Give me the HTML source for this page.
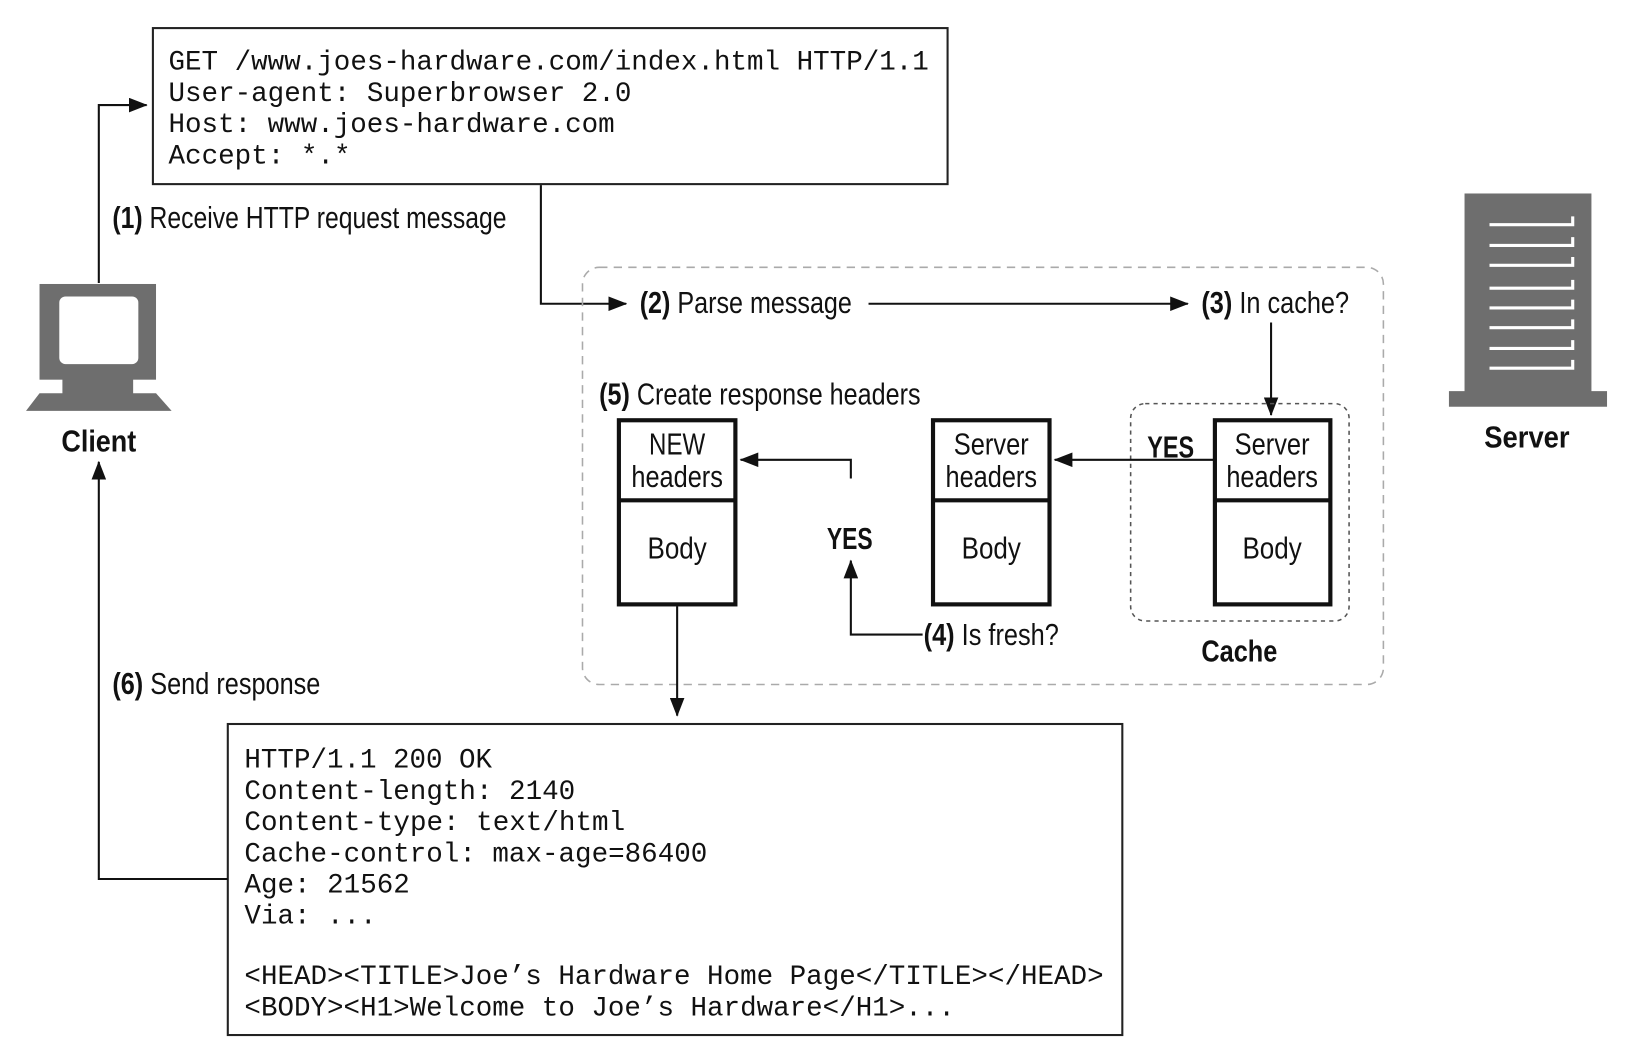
<!DOCTYPE html>
<html><head><meta charset="utf-8"><style>
html,body{margin:0;padding:0;background:#fff;}
svg{display:block}
.m{font-family:"Liberation Mono",monospace;font-size:27px;fill:#111}
.l{font-family:"Liberation Sans",sans-serif;font-size:29px;fill:#111}
.b{font-weight:bold}
</style></head><body>
<svg width="1632" height="1060" viewBox="0 0 1569 1019" preserveAspectRatio="none" xmlns="http://www.w3.org/2000/svg">
<defs>
<marker id="a2" markerWidth="18" markerHeight="14" refX="17" refY="7" orient="auto" markerUnits="userSpaceOnUse"><path d="M0,0 L18,7 L0,14 Z" fill="#111"/></marker>
</defs>
<rect x="147" y="27" width="764" height="150" fill="none" stroke="#222" stroke-width="2"/>
<text class="m" x="162" y="67" textLength="731" lengthAdjust="spacingAndGlyphs">GET /www.joes-hardware.com/index.html HTTP/1.1</text>
<text class="m" x="162" y="97" textLength="445" lengthAdjust="spacingAndGlyphs">User-agent: Superbrowser 2.0</text>
<text class="m" x="162" y="127" textLength="429" lengthAdjust="spacingAndGlyphs">Host: www.joes-hardware.com</text>
<text class="m" x="162" y="157" textLength="175" lengthAdjust="spacingAndGlyphs">Accept: *.*</text>
<polyline points="95,272 95,101 141,101" fill="none" stroke="#111" stroke-width="2" marker-end="url(#a2)"/>
<text class="l" x="108" y="219" textLength="379" lengthAdjust="spacingAndGlyphs"><tspan class="b">(1)</tspan> Receive HTTP request message</text>
<polyline points="520,178 520,292 602,292" fill="none" stroke="#111" stroke-width="2" marker-end="url(#a2)"/>
<rect x="560" y="257" width="770" height="401" rx="16" fill="none" stroke="#aaa" stroke-width="1.5" stroke-dasharray="8,6"/>
<text class="l" x="615" y="301" textLength="204" lengthAdjust="spacingAndGlyphs"><tspan class="b">(2)</tspan> Parse message</text>
<line x1="835" y1="292" x2="1142" y2="292" stroke="#111" stroke-width="2" marker-end="url(#a2)"/>
<text class="l" x="1155" y="301" textLength="142" lengthAdjust="spacingAndGlyphs"><tspan class="b">(3)</tspan> In cache?</text>
<line x1="1222" y1="310" x2="1222" y2="399" stroke="#111" stroke-width="2" marker-end="url(#a2)"/>
<rect x="1087" y="388" width="210" height="209" rx="14" fill="none" stroke="#555" stroke-width="1.5" stroke-dasharray="4,4"/>
<text class="l b" x="1155" y="636" textLength="73" lengthAdjust="spacingAndGlyphs">Cache</text>
<text class="l" x="576" y="389" textLength="309" lengthAdjust="spacingAndGlyphs"><tspan class="b">(5)</tspan> Create response headers</text>
<g fill="#fff" stroke="#111" stroke-width="4">
<rect x="595" y="404" width="112" height="177"/><line x1="595" y1="481" x2="707" y2="481"/>
<rect x="897" y="404" width="112" height="177"/><line x1="897" y1="481" x2="1009" y2="481"/>
<rect x="1168" y="404" width="111" height="177"/><line x1="1168" y1="481" x2="1279" y2="481"/>
</g>
<g class="l" text-anchor="middle">
<text x="651" y="437" textLength="54" lengthAdjust="spacingAndGlyphs">NEW</text><text x="651" y="468" textLength="88" lengthAdjust="spacingAndGlyphs">headers</text><text x="651" y="537" textLength="57" lengthAdjust="spacingAndGlyphs">Body</text>
<text x="953" y="437" textLength="72" lengthAdjust="spacingAndGlyphs">Server</text><text x="953" y="468" textLength="88" lengthAdjust="spacingAndGlyphs">headers</text><text x="953" y="537" textLength="57" lengthAdjust="spacingAndGlyphs">Body</text>
<text x="1223" y="437" textLength="72" lengthAdjust="spacingAndGlyphs">Server</text><text x="1223" y="468" textLength="88" lengthAdjust="spacingAndGlyphs">headers</text><text x="1223" y="537" textLength="57" lengthAdjust="spacingAndGlyphs">Body</text>
</g>
<text class="l b" x="1103" y="440" textLength="45" lengthAdjust="spacingAndGlyphs">YES</text>
<line x1="1167" y1="442" x2="1014" y2="442" stroke="#111" stroke-width="2" marker-end="url(#a2)"/>
<polyline points="818,460 818,442 712,442" fill="none" stroke="#111" stroke-width="2" marker-end="url(#a2)"/>
<text class="l b" x="795" y="528" textLength="44" lengthAdjust="spacingAndGlyphs">YES</text>
<polyline points="887,610 818,610 818,539" fill="none" stroke="#111" stroke-width="2" marker-end="url(#a2)"/>
<text class="l" x="888" y="620" textLength="130" lengthAdjust="spacingAndGlyphs"><tspan class="b">(4)</tspan> Is fresh?</text>
<line x1="651" y1="583" x2="651" y2="688" stroke="#111" stroke-width="2" marker-end="url(#a2)"/>
<rect x="219" y="696" width="860" height="299" fill="none" stroke="#222" stroke-width="2"/>
<text class="m" x="235" y="738" textLength="238" lengthAdjust="spacingAndGlyphs">HTTP/1.1 200 OK</text>
<text class="m" x="235" y="768" textLength="318" lengthAdjust="spacingAndGlyphs">Content-length: 2140</text>
<text class="m" x="235" y="798" textLength="366" lengthAdjust="spacingAndGlyphs">Content-type: text/html</text>
<text class="m" x="235" y="828" textLength="445" lengthAdjust="spacingAndGlyphs">Cache-control: max-age=86400</text>
<text class="m" x="235" y="858" textLength="159" lengthAdjust="spacingAndGlyphs">Age: 21562</text>
<text class="m" x="235" y="888" textLength="127" lengthAdjust="spacingAndGlyphs">Via: ...</text>
<text class="m" x="235" y="946" textLength="826" lengthAdjust="spacingAndGlyphs">&lt;HEAD&gt;&lt;TITLE&gt;Joe’s Hardware Home Page&lt;/TITLE&gt;&lt;/HEAD&gt;</text>
<text class="m" x="235" y="976" textLength="683" lengthAdjust="spacingAndGlyphs">&lt;BODY&gt;&lt;H1&gt;Welcome to Joe’s Hardware&lt;/H1&gt;...</text>
<polyline points="219,845 95,845 95,444" fill="none" stroke="#111" stroke-width="2" marker-end="url(#a2)"/>
<text class="l" x="108" y="667" textLength="200" lengthAdjust="spacingAndGlyphs"><tspan class="b">(6)</tspan> Send response</text>
<g fill="#6e6e6e">
<rect x="38" y="273" width="112" height="92"/>
<rect x="60" y="363" width="68" height="16"/>
<polygon points="38,378 150,378 165,395 25,395"/>
</g>
<rect x="57" y="285" width="76" height="65" rx="6" fill="#fff"/>
<text class="l b" x="95" y="434" text-anchor="middle" textLength="72" lengthAdjust="spacingAndGlyphs">Client</text>
<g fill="#6e6e6e">
<rect x="1408" y="186" width="122" height="192"/>
<rect x="1393" y="376" width="152" height="15"/>
</g>
<g stroke="#fff" stroke-width="3" fill="none">
<polyline points="1432,216 1512,216 1512,208"/>
<polyline points="1432,236 1512,236 1512,228"/>
<polyline points="1432,255 1512,255 1512,247"/>
<polyline points="1432,277 1512,277 1512,269"/>
<polyline points="1432,296 1512,296 1512,288"/>
<polyline points="1432,315 1512,315 1512,307"/>
<polyline points="1432,335 1512,335 1512,327"/>
<polyline points="1432,354 1512,354 1512,346"/>
</g>
<text class="l b" x="1468" y="430" text-anchor="middle" textLength="82" lengthAdjust="spacingAndGlyphs">Server</text>
</svg>
</body></html>
